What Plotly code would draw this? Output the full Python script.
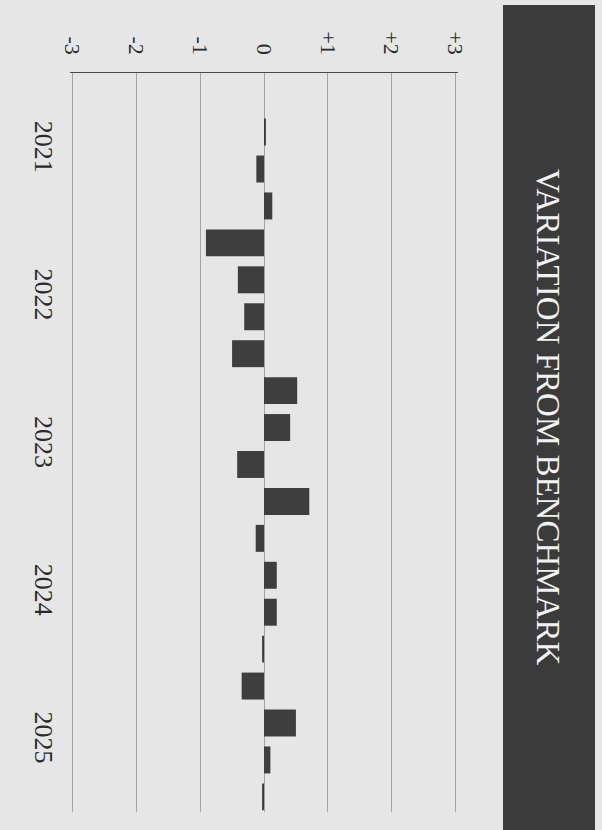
import plotly.graph_objects as go

# ---- data ----
periods = list(range(1, 20))
variation = [0.03, -0.12, 0.13, -0.91, -0.41, -0.31, -0.50, 0.52, 0.41, -0.42,
             0.71, -0.13, 0.20, 0.20, -0.03, -0.35, 0.50, 0.10, -0.03]
year_labels = ["2021", "2022", "2023", "2024", "2025"]
year_tick_positions = [1.5, 5.5, 9.5, 13.5, 17.5]
value_ticks = [-3, -2, -1, 0, 1, 2, 3]
value_tick_labels = ["-3", "-2", "-1", "0", "+1", "+2", "+3"]
title_text = "VARIATION FROM BENCHMARK"

W, H = 602, 830
L, R, T, B = 70, 144, 73, 18
pw, ph = W - L - R, H - T - B

def px_to_paper_x(px):
    return (px - L) / pw

def px_to_paper_y(py):
    return (H - B - py) / ph

fig = go.Figure()
fig.add_trace(go.Bar(
    x=variation, y=periods, orientation="h",
    width=0.73,
    marker=dict(color="#3e3e3e", line=dict(width=0)),
    hoverinfo="skip",
))

fig.update_layout(
    width=W, height=H,
    margin=dict(l=L, r=R, t=T, b=B, pad=0),
    paper_bgcolor="#e6e6e6",
    plot_bgcolor="#e6e6e6",
    showlegend=False,
    bargap=0.27,
    xaxis=dict(
        side="top",
        range=[-3.04, 3.04],
        tickvals=value_ticks,
        ticktext=value_tick_labels,
        tickangle=90,
        ticks="",
        ticklabelstandoff=9,
        showgrid=True, gridcolor="#a4a4a4", gridwidth=1,
        zeroline=False,
        showline=True, linecolor="#4a4a4a", linewidth=1.5,
        tickfont=dict(family="Liberation Serif", size=22, color="#2a2a2a"),
        automargin=False,
        fixedrange=True,
    ),
    yaxis=dict(
        range=[19.41, -0.6],
        tickvals=year_tick_positions,
        ticktext=year_labels,
        tickangle=90,
        ticks="",
        ticklabelstandoff=8,
        showgrid=False, zeroline=False, showline=False,
        tickfont=dict(family="Liberation Serif", size=26, color="#2a2a2a"),
        automargin=False,
        fixedrange=True,
    ),
    shapes=[
        dict(type="rect", xref="paper", yref="paper",
             x0=px_to_paper_x(503), x1=px_to_paper_x(595),
             y0=px_to_paper_y(835), y1=px_to_paper_y(5),
             fillcolor="#3b3b3b", line=dict(width=0), layer="below"),
    ],
    annotations=[
        dict(text=title_text, xref="paper", yref="paper",
             x=px_to_paper_x(548), y=px_to_paper_y(417),
             xanchor="center", yanchor="middle",
             textangle=90, showarrow=False,
             font=dict(family="Liberation Serif", size=33, color="#f2f2f2")),
    ],
)

fig.write_html("out.html", config={"displayModeBar": False, "staticPlot": True},
               post_script="document.body.style.margin='0';")
